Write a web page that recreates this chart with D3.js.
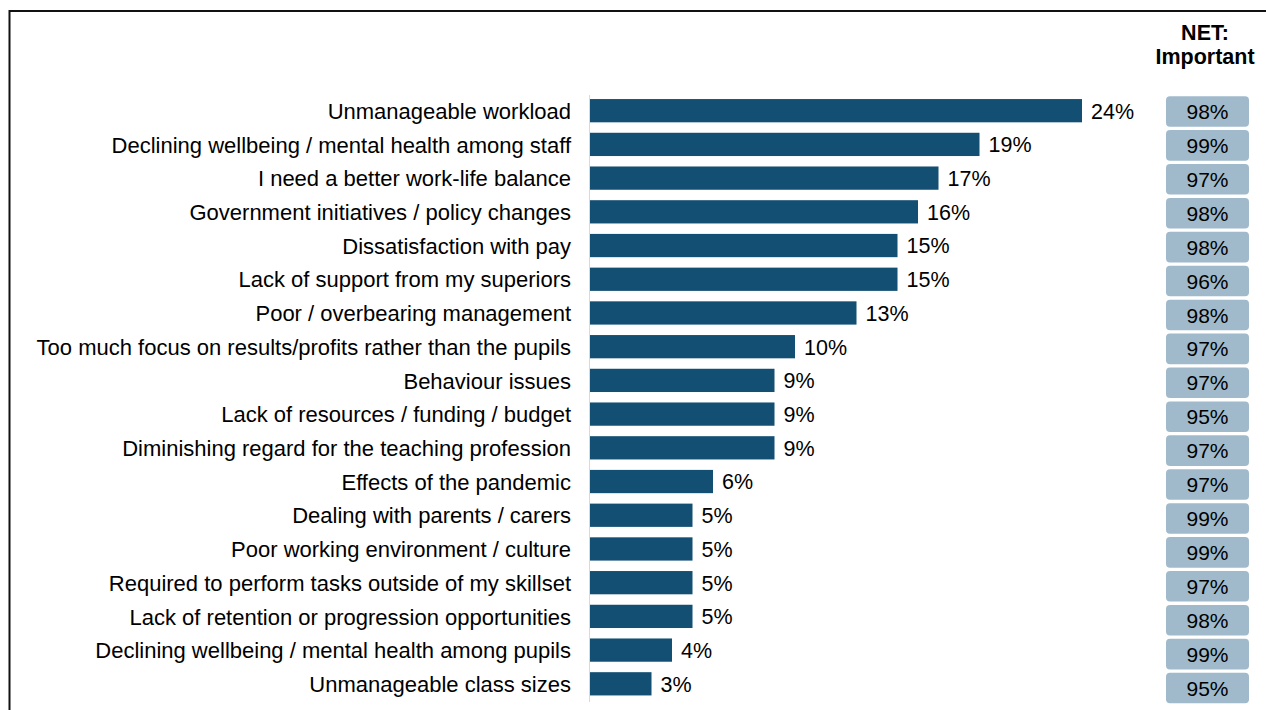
<!DOCTYPE html>
<html>
<head>
<meta charset="utf-8">
<script src="https://cdn.jsdelivr.net/npm/d3@7"></script>
<style>
  body { margin: 0; background: #fff; }
  svg text { font-family: "Liberation Sans", Arial, sans-serif; }
</style>
</head>
<body>
<svg id="chart"></svg>
<script>
// reasons and their shares
var categories = [
  "Unmanageable workload",
  "Declining wellbeing / mental health among staff",
  "I need a better work-life balance",
  "Government initiatives / policy changes",
  "Dissatisfaction with pay",
  "Lack of support from my superiors",
  "Poor / overbearing management",
  "Too much focus on results/profits rather than the pupils",
  "Behaviour issues",
  "Lack of resources / funding / budget",
  "Diminishing regard for the teaching profession",
  "Effects of the pandemic",
  "Dealing with parents / carers",
  "Poor working environment / culture",
  "Required to perform tasks outside of my skillset",
  "Lack of retention or progression opportunities",
  "Declining wellbeing / mental health among pupils",
  "Unmanageable class sizes"
];
var values = [24, 19, 17, 16, 15, 15, 13, 10, 9, 9, 9, 6, 5, 5, 5, 5, 4, 3];
var netImportant = [98, 99, 97, 98, 98, 96, 98, 97, 97, 95, 97, 97, 99, 99, 97, 98, 99, 95];

var width = 1266, height = 710;

var svg = d3.select("#chart")
  .attr("width", width)
  .attr("height", height);

// frame (runs off the right and bottom edge)
svg.append("path")
  .attr("d", "M9.5," + height + "V11H" + width)
  .attr("fill", "none")
  .attr("stroke", "#111")
  .attr("stroke-width", 2);

var x = d3.scaleLinear()
  .domain([0, 24])
  .range([590, 1082]);

var y = d3.scaleBand()
  .domain(categories)
  .range([94, 700.5])
  .paddingInner(0.31)
  .paddingOuter(0.15);

// boxes on the right are spaced a touch wider than the bars
var yBox = d3.scaleBand()
  .domain(categories)
  .range([94.5, 705])
  .paddingInner(0.1)
  .paddingOuter(0.05);

// axis line
svg.append("line")
  .attr("x1", 589.5).attr("x2", 589.5)
  .attr("y1", 95).attr("y2", 702)
  .attr("stroke", "#d9d9d9")
  .attr("stroke-width", 1);

svg.selectAll("rect.bar")
  .data(values)
  .join("rect")
    .attr("class", "bar")
    .attr("x", x(0))
    .attr("y", function(d, i){ return y(categories[i]); })
    .attr("width", function(d){ return x(d) - x(0); })
    .attr("height", y.bandwidth())
    .attr("fill", "#134f73");

svg.selectAll("text.cat")
  .data(categories)
  .join("text")
    .attr("class", "cat")
    .attr("x", 571)
    .attr("y", function(d){ return y(d) + y.bandwidth() / 2; })
    .attr("dy", "0.37em")
    .attr("text-anchor", "end")
    .attr("font-size", 22)
    .attr("fill", "#000")
    .text(function(d){ return d; });

svg.selectAll("text.val")
  .data(values)
  .join("text")
    .attr("class", "val")
    .attr("x", function(d){ return x(d) + 9; })
    .attr("y", function(d, i){ return y(categories[i]) + y.bandwidth() / 2; })
    .attr("dy", "0.37em")
    .attr("font-size", 21.5)
    .attr("fill", "#000")
    .text(function(d){ return d + "%"; });

// NET: Important column
svg.append("text")
  .attr("x", 1205).attr("y", 40)
  .attr("text-anchor", "middle")
  .attr("font-size", 21.5)
  .attr("font-weight", "bold")
  .text("NET:");
svg.append("text")
  .attr("x", 1205).attr("y", 64)
  .attr("text-anchor", "middle")
  .attr("font-size", 21.5)
  .attr("font-weight", "bold")
  .text("Important");

svg.selectAll("rect.net")
  .data(netImportant)
  .join("rect")
    .attr("class", "net")
    .attr("x", 1166)
    .attr("y", function(d, i){ return yBox(categories[i]); })
    .attr("width", 83)
    .attr("height", yBox.bandwidth())
    .attr("rx", 4)
    .attr("fill", "#a0bacb");

svg.selectAll("text.net")
  .data(netImportant)
  .join("text")
    .attr("class", "net")
    .attr("x", 1207.5)
    .attr("y", function(d, i){ return yBox(categories[i]) + yBox.bandwidth() / 2; })
    .attr("dy", "0.36em")
    .attr("text-anchor", "middle")
    .attr("font-size", 21)
    .attr("fill", "#000")
    .text(function(d){ return d + "%"; });
</script>
</body>
</html>
